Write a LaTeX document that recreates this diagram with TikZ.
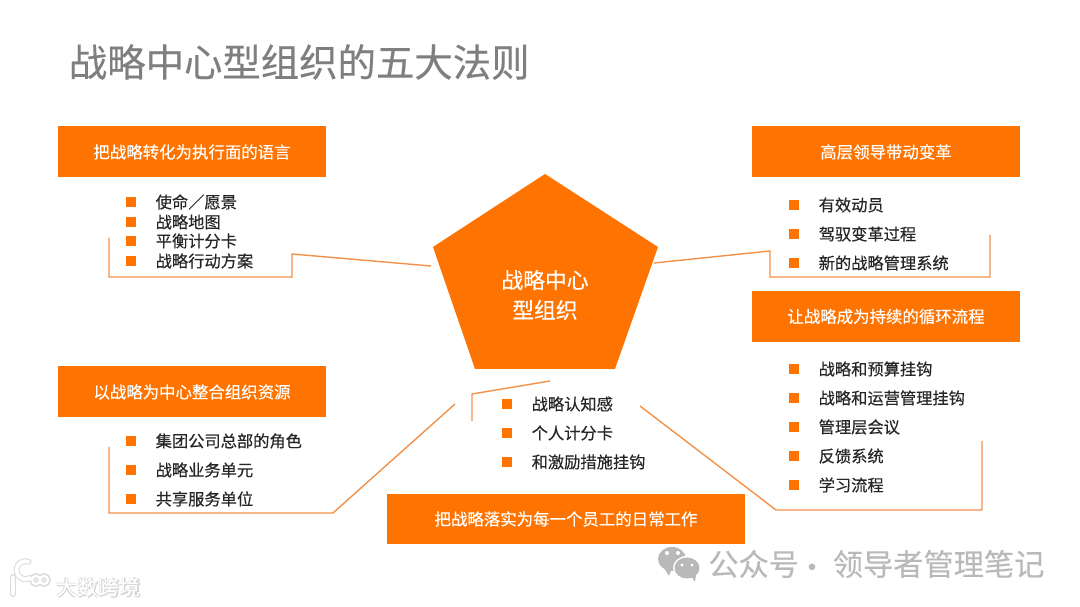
\documentclass[tikz,border=0pt]{standalone}
\usepackage{fontspec}
\setmainfont[RawFeature={embolden=0.35}]{Noto Sans CJK SC}
\usepackage{xcolor}
\definecolor{mainorange}{HTML}{FF7300}
\definecolor{lineorange}{HTML}{F2914A}
\definecolor{titlegray}{HTML}{7F7F7F}
\definecolor{markgray}{HTML}{B9B9B9}
\definecolor{itemblack}{HTML}{262626}
\tikzset{
  headbox/.style={fill=mainorange, text=white, font=\fontsize{9.35pt}{11pt}\selectfont, minimum width=5.36cm, minimum height=1.02cm, inner sep=0pt},
  bullet/.style={fill=mainorange, minimum size=0.2cm, inner sep=0pt},
  itemtext/.style={text=itemblack, font=\fontsize{9.25pt}{11pt}\selectfont, inner sep=0pt, label distance=0.38cm},
  linkline/.style={draw=lineorange, line width=0.8pt},
  markfont/.style={text=markgray, inner sep=0pt, font=\fontsize{17.2pt}{20pt}\selectfont},
}
\begin{document}
\begin{tikzpicture}[x=0.02cm, y=-0.02cm]
        \useasboundingbox (0,0) rectangle (1080,607);

        % Title
        \node[anchor=west, text=titlegray, inner sep=0pt, font=\fontsize{21.85pt}{26pt}\selectfont] (title) at (68.5,62) {战略中心型组织的五大法则};

        % Pentagon
        \coordinate (ptop) at (545,174);
        \coordinate (pright) at (658,247);
        \coordinate (plowr) at (615,369);
        \coordinate (plowl) at (475,369);
        \coordinate (pleft) at (433,247);
        \fill[mainorange] (ptop)--(pright)--(plowr)--(plowl)--(pleft)--cycle;
        \node[text=white, align=center, inner sep=0pt, font=\fontsize{12.4pt}{17pt}\selectfont] (core) at (545,295) {战略中心\\型组织};

        % Header boxes
        \node[headbox] (lang)   at (192,152) {把战略转化为执行面的语言};
        \node[headbox] (lead)   at (886,152) {高层领导带动变革};
        \node[headbox] (cycle)  at (886,316.5) {让战略成为持续的循环流程};
        \node[headbox] (res)    at (192,392) {以战略为中心整合组织资源};
        \node[headbox, minimum width=7.16cm] (daily) at (566,519) {把战略落实为每一个员工的日常工作};

        % Left upper list
        \node[bullet, label={[itemtext]right:使命／愿景}]   (la) at (131,202) {};
        \node[bullet, label={[itemtext]right:战略地图}]     (lb) at (131,222) {};
        \node[bullet, label={[itemtext]right:平衡计分卡}]   (lc) at (131,241) {};
        \node[bullet, label={[itemtext]right:战略行动方案}] (ld) at (131,261) {};

        % Right upper list
        \node[bullet, label={[itemtext]right:有效动员}]       (ra) at (794,205) {};
        \node[bullet, label={[itemtext]right:驾驭变革过程}]   (rb) at (794,234) {};
        \node[bullet, label={[itemtext]right:新的战略管理系统}] (rc) at (794,263) {};

        % Right lower list
        \node[bullet, label={[itemtext]right:战略和预算挂钩}]     (ca) at (794,369) {};
        \node[bullet, label={[itemtext]right:战略和运营管理挂钩}] (cb) at (794,398) {};
        \node[bullet, label={[itemtext]right:管理层会议}]         (cc) at (794,427) {};
        \node[bullet, label={[itemtext]right:反馈系统}]           (cd) at (794,456) {};
        \node[bullet, label={[itemtext]right:学习流程}]           (ce) at (794,485) {};

        % Left lower list
        \node[bullet, label={[itemtext]right:集团公司总部的角色}] (ga) at (131,441) {};
        \node[bullet, label={[itemtext]right:战略业务单元}]       (gb) at (131,470) {};
        \node[bullet, label={[itemtext]right:共享服务单位}]       (gc) at (131,499) {};

        % Bottom list
        \node[bullet, label={[itemtext]right:战略认知感}]     (da) at (507,404) {};
        \node[bullet, label={[itemtext]right:个人计分卡}]     (db) at (507,433) {};
        \node[bullet, label={[itemtext]right:和激励措施挂钩}] (dc) at (507,462) {};

        % Connector ends
        \coordinate (l1) at (109,238);
        \coordinate (l2) at (109,277);
        \coordinate (l3) at (292,277);
        \coordinate (l4) at (292,254);
        \coordinate (l5) at (431,266);
        \coordinate (r1) at (654,263);
        \coordinate (r2) at (770,251);
        \coordinate (r3) at (770,277);
        \coordinate (r4) at (990,277);
        \coordinate (r5) at (990,235);
        \coordinate (g1) at (455,404);
        \coordinate (g2) at (333,513);
        \coordinate (g3) at (109,513);
        \coordinate (g4) at (109,447);
        \coordinate (c1) at (640,406);
        \coordinate (c2) at (776,510);
        \coordinate (c3) at (982,510);
        \coordinate (c4) at (982,441);
        \coordinate (d1) at (550,381);
        \coordinate (d2) at (472,394);
        \coordinate (d3) at (472,421);

        % Connectors
        \draw[linkline] (l1)--(l2)--(l3)--(l4)--(l5);
        \draw[linkline] (r1)--(r2)--(r3)--(r4)--(r5);
        \draw[linkline] (g1)--(g2)--(g3)--(g4);
        \draw[linkline] (c1)--(c2)--(c3)--(c4);
        \draw[linkline] (d1)--(d2)--(d3);

        % Account mark
        \fill[markgray] (672,559) ellipse (14 and 12);
        \fill[markgray] (664,568)--(669,576)--(672,568)--cycle;
        \fill[white] (687,568) ellipse (14 and 12);
        \fill[markgray] (687,568) ellipse (12.5 and 10.5);
        \fill[markgray] (691,576)--(695,582)--(696,575)--cycle;
        \fill[white] (667,553) circle (2) (678,553) circle (2) (682,565) circle (1.7) (692,565) circle (1.7);
        \node[anchor=west, markfont] (acct) at (708,564) {公众号};
        \node[markfont] (dot) at (812,571) {·};
        \node[anchor=west, markfont] (acctname) at (832.5,564) {领导者管理笔记};

        % Corner watermark
        \draw[line width=3.4pt, draw=black!14, line cap=round] (13,577)--(13,594) (30,578) arc (60:290:9);
        \draw[line width=3.2pt, draw=black!14] (36,580) circle (4) (44,580) circle (4);
        \draw[line width=2.2pt, draw=white, line cap=round] (13,577)--(13,594) (30,578) arc (60:290:9);
        \draw[line width=1.4pt, draw=white] (36,580) circle (4) (44,580) circle (4);
        \node[text=black!18, inner sep=0pt, font=\bfseries\fontsize{12.1pt}{14pt}\selectfont] (wmshade) at (98.5,587.5) {大数跨境};
        \node[text=white, inner sep=0pt, font=\fontsize{11.9pt}{14pt}\selectfont] (wm) at (98,587) {大数跨境};
    \end{tikzpicture}
\end{document}
